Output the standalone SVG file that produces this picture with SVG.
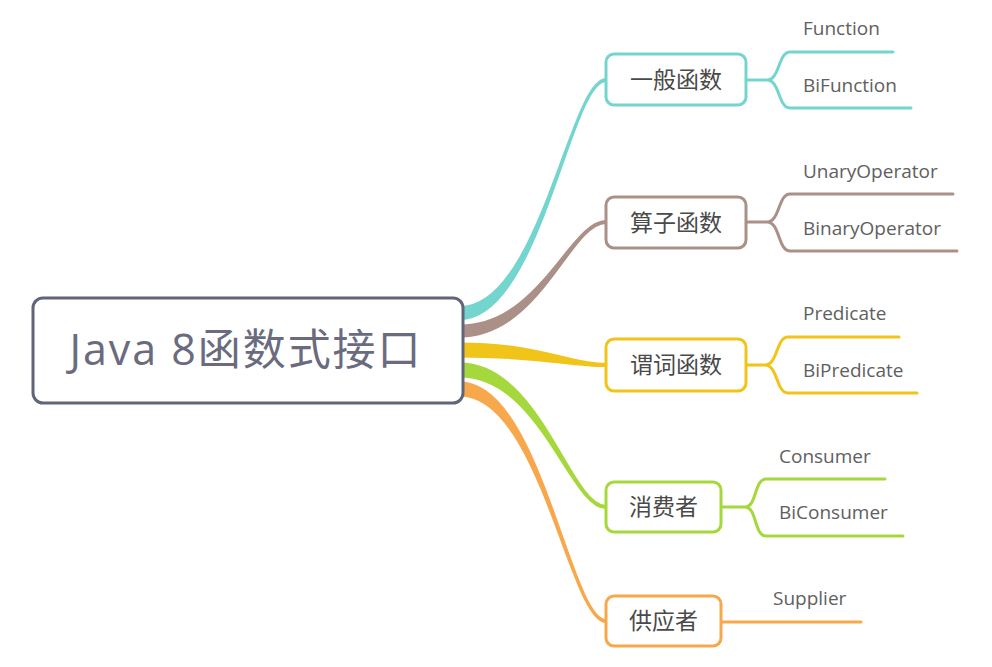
<svg xmlns="http://www.w3.org/2000/svg" width="992" height="667" viewBox="0 0 992 667">
<style>
.leaf{font-family:"Open Sans","Noto Sans CJK SC",sans-serif;font-size:19px;fill:#606060}
.lbl{font-family:"Noto Sans CJK SC","Open Sans",sans-serif;font-size:23px;fill:#4a4a4a;text-anchor:middle}
.node{fill:#ffffff;stroke-width:3}
.br{fill:none;stroke-width:3;stroke-linecap:round;stroke-linejoin:round}
.teal{stroke:#74d5cf;fill:#74d5cf}
.brown{stroke:#ab9087;fill:#ab9087}
.yellow{stroke:#f0c419;fill:#f0c419}
.green{stroke:#a5d83c;fill:#a5d83c}
.orange{stroke:#f7a84c;fill:#f7a84c}
</style>
<rect width="992" height="667" fill="#ffffff"/>
<g id="connectors">
  <path class="teal" stroke-width="2" d="M460,307 C540,307 570,79 606,79 L606,81 C570,81 540,319 460,319 Z"/>
  <path class="brown" stroke-width="2" d="M460,325.5 C540,325.5 570,221 606,221 L606,223 C570,223 540,336.5 460,336.5 Z"/>
  <path class="yellow" stroke-width="2" d="M460,343.5 C540,343.5 570,364 606,364 L606,366 C570,366 540,356.5 460,356.5 Z"/>
  <path class="green" stroke-width="2" d="M460,363.5 C540,363.5 570,506 606,506 L606,508 C570,508 540,376.5 460,376.5 Z"/>
  <path class="orange" stroke-width="2" d="M460,382.5 C540,382.5 570,620 606,620 L606,622 C570,622 540,395.5 460,395.5 Z"/>
  <path class="br" style="stroke:#74d5cf;fill:none" d="M746,80 L767,80 C780,80 778,52 790,52 L893,52 M767,80 C780,80 778,108 790,108 L911,108"/>
  <path class="br" style="stroke:#ab9087;fill:none" d="M746,222 L767,222 C780,222 778,194 790,194 L953,194 M767,222 C780,222 778,251 790,251 L957,251"/>
  <path class="br" style="stroke:#f0c419;fill:none" d="M746,365 L765,365 C778,365 776,337 788,337 L899,337 M765,365 C778,365 776,393 788,393 L917,393"/>
  <path class="br" style="stroke:#a5d83c;fill:none" d="M721,507 L745,507 C757,507 754,479 766,479 L885,479 M745,507 C757,507 754,536 766,536 L903,536"/>
  <path class="br" style="stroke:#f7a84c;fill:none" d="M721,622 L861,622"/>
</g>
<g id="root">
  <rect x="33" y="298" width="430" height="105" rx="10" fill="#ffffff" stroke="#62657a" stroke-width="3"/>
  <text x="245" y="365" font-family="Open Sans, Noto Sans CJK SC, sans-serif" font-size="43" fill="#6a6b7e" text-anchor="middle" textLength="351" lengthAdjust="spacing">Java 8函数式接口</text>
</g>
<g id="n-general">
  <rect class="node" x="606" y="54" width="140" height="51" rx="8" stroke="#74d5cf"/>
  <text class="lbl" x="676" y="88">一般函数</text>
</g>
<g id="n-operator">
  <rect class="node" x="606" y="197" width="140" height="51" rx="8" stroke="#ab9087"/>
  <text class="lbl" x="676" y="231">算子函数</text>
</g>
<g id="n-predicate">
  <rect class="node" x="606" y="339" width="140" height="52" rx="8" stroke="#f0c419"/>
  <text class="lbl" x="676" y="373">谓词函数</text>
</g>
<g id="n-consumer">
  <rect class="node" x="606" y="482" width="115" height="50" rx="8" stroke="#a5d83c"/>
  <text class="lbl" x="663.5" y="515">消费者</text>
</g>
<g id="n-supplier">
  <rect class="node" x="606" y="596" width="115" height="50" rx="8" stroke="#f7a84c"/>
  <text class="lbl" x="663.5" y="629">供应者</text>
</g>
<g id="l-function"><text class="leaf" x="803" y="35">Function</text></g>
<g id="l-bifunction"><text class="leaf" x="803" y="92">BiFunction</text></g>
<g id="l-unary"><text class="leaf" x="803" y="178">UnaryOperator</text></g>
<g id="l-binary"><text class="leaf" x="803" y="235">BinaryOperator</text></g>
<g id="l-predicate"><text class="leaf" x="803" y="320">Predicate</text></g>
<g id="l-bipredicate"><text class="leaf" x="803" y="377">BiPredicate</text></g>
<g id="l-consumer"><text class="leaf" x="779" y="463">Consumer</text></g>
<g id="l-biconsumer"><text class="leaf" x="779" y="519">BiConsumer</text></g>
<g id="l-supplier"><text class="leaf" x="773" y="605">Supplier</text></g>
</svg>
